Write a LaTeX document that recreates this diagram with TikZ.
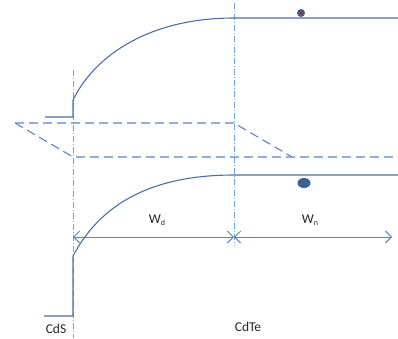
\documentclass[tikz,border=0pt]{standalone}
\usepackage{fontspec}
\setmainfont{Carlito}
\usetikzlibrary{arrows.meta,shapes.geometric}
\definecolor{bandc}{RGB}{74,112,168}
\definecolor{dashc}{RGB}{88,133,196}
\definecolor{vlinec}{RGB}{110,168,222}
\definecolor{dotc}{RGB}{60,95,150}
\tikzset{
  band/.style={draw=bandc, line width=1.1pt},
  fermi/.style={draw=dashc, line width=1.1pt, dash pattern=on 9pt off 5pt},
  junction/.style={draw=vlinec, line width=0.7pt, dash pattern=on 6pt off 2pt on 1pt off 2pt},
  dim/.style={draw=dashc, line width=1pt, {Straight Barb[length=6pt,width=12pt]}-{Straight Barb[length=6pt,width=12pt]}},
  lbl/.style={inner sep=0pt, font=\fontsize{13.5}{15}\selectfont, text=black!85}
}
\begin{document}
\begin{tikzpicture}[x=1pt,y=-1pt]
\useasboundingbox (0,0) rectangle (398,338);
% junction lines
\coordinate (jlt) at (73,70);
\coordinate (jlb) at (73,338);
\coordinate (jrt) at (234,3);
\coordinate (jrb) at (234,246);
\draw[junction] (jlt) -- (jlb);
\draw[junction] (jrt) -- (jrb);
% conduction band
\coordinate (c0) at (45,117);
\coordinate (c1) at (73,117);
\coordinate (c2) at (73,100);
\coordinate (c3) at (234,18);
\coordinate (c4) at (398,18);
\draw[band] (c0) -- (c1) -- (c2) .. controls (95,55) and (150,18) .. (c3) -- (c4);
% valence band
\coordinate (v0) at (44,316);
\coordinate (v1) at (73,316);
\coordinate (v2) at (73,256);
\coordinate (v3) at (234,175);
\coordinate (v4) at (398,175);
\draw[band] (v0) -- (v1) -- (v2) .. controls (100,205) and (150,175) .. (v3) -- (v4);
% quasi fermi levels (dashed)
\coordinate (f0) at (15,123);
\coordinate (f1) at (234,123);
\coordinate (f2) at (292,157);
\coordinate (f3) at (73,157);
\coordinate (f4) at (398,157);
\draw[fermi] (f0) -- (f1) -- (f2);
\draw[fermi] (f0) -- (f3) -- (f4);
% carriers
\node[circle, fill=dotc, minimum size=8pt, inner sep=0pt] (el) at (301,13) {};
\node[circle, fill=red, minimum size=3pt, inner sep=0pt] (elc) at (el.center) {};
\node[ellipse, fill=dotc, minimum width=13pt, minimum height=10pt, inner sep=0pt] (ho) at (304,183) {};
% widths
\coordinate (a0) at (73,237);
\coordinate (a1) at (234,237);
\coordinate (a2) at (392,237);
\draw[dim] (a0) -- (a1);
\draw[dim] (a1) -- (a2);
\node[lbl] (wd) at (157,220) {W\raisebox{-0.35ex}{\fontsize{8}{9}\selectfont d}};
\node[lbl] (wn) at (310,220) {W\raisebox{-0.35ex}{\fontsize{8}{9}\selectfont n}};
\node[lbl] (cds) at (56,329) {CdS};
\node[lbl] (cdte) at (248,327) {CdTe};
\end{tikzpicture}
\end{document}
